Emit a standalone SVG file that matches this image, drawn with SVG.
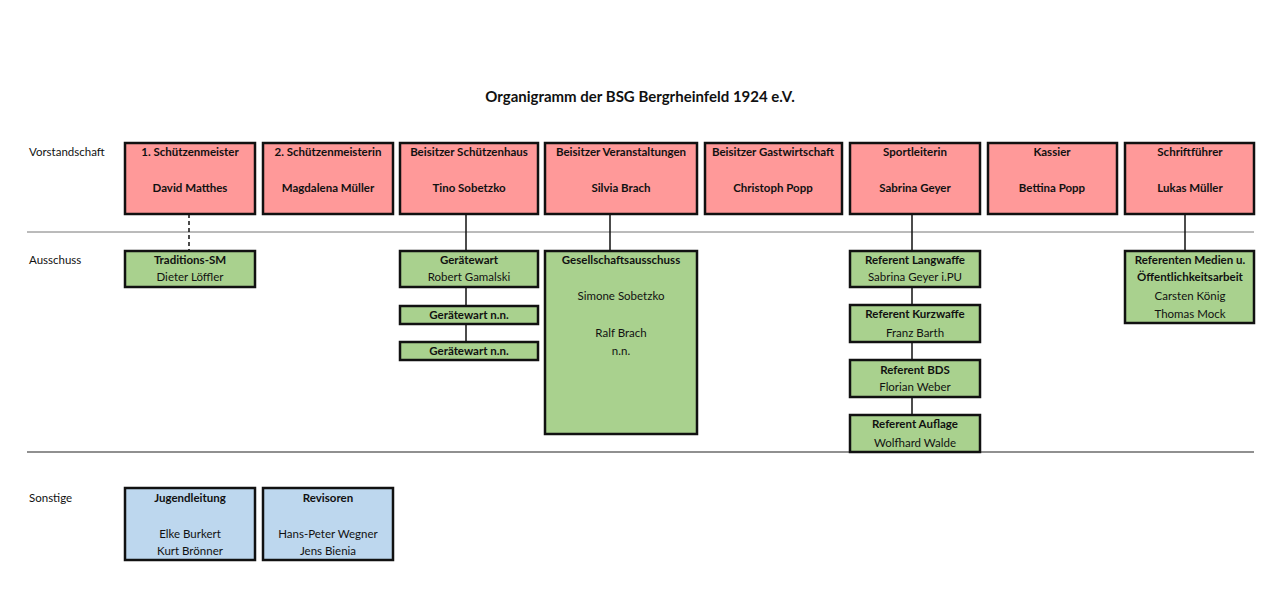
<svg xmlns="http://www.w3.org/2000/svg" width="1281" height="615" viewBox="0 0 1281 615">
<style>
text{font-family:Lato,"Open Sans","Liberation Sans",sans-serif;font-size:11.5px;fill:#111;text-anchor:middle}
.b{font-weight:bold}
.lab{text-anchor:start}
.r{fill:#FF9999;stroke:#111;stroke-width:2.5}
.g{fill:#A9D18E;stroke:#111;stroke-width:2.5}
.u{fill:#BDD7EE;stroke:#111;stroke-width:2.5}
.c{stroke:#111;stroke-width:1.5;fill:none}
</style>
<rect width="1281" height="615" fill="#fff"/>
<text x="640" y="102" class="b" style="font-size:15px">Organigramm der BSG Bergrheinfeld 1924 e.V.</text>
<text x="29" y="156" class="lab">Vorstandschaft</text>
<text x="29" y="264" class="lab">Ausschuss</text>
<text x="29" y="502" class="lab">Sonstige</text>
<line x1="27" y1="232" x2="1254" y2="232" stroke="#777" stroke-width="1"/>
<line x1="27" y1="452" x2="1254" y2="452" stroke="#222" stroke-width="1.2"/>
<g id="connectors">
<line class="c" x1="189" y1="214" x2="189" y2="251" stroke-dasharray="4,3"/>
<line class="c" x1="466" y1="214" x2="466" y2="251"/>
<line class="c" x1="466" y1="287" x2="466" y2="306"/>
<line class="c" x1="466" y1="324" x2="466" y2="342"/>
<line class="c" x1="610" y1="214" x2="610" y2="251"/>
<line class="c" x1="912" y1="214" x2="912" y2="251"/>
<line class="c" x1="912" y1="287" x2="912" y2="305"/>
<line class="c" x1="912" y1="342" x2="912" y2="360"/>
<line class="c" x1="912" y1="397" x2="912" y2="415"/>
<line class="c" x1="1185" y1="214" x2="1185" y2="251"/>
</g>
<g id="n1"><rect class="r" x="125" y="143" width="130" height="71"/><text x="190" y="156" class="b">1. Schützenmeister</text><text x="190" y="192" class="b">David Matthes</text></g>
<g id="n2"><rect class="r" x="263" y="143" width="130" height="71"/><text x="328" y="156" class="b">2. Schützenmeisterin</text><text x="328" y="192" class="b">Magdalena Müller</text></g>
<g id="n3"><rect class="r" x="400" y="143" width="138" height="71"/><text x="469" y="156" class="b">Beisitzer Schützenhaus</text><text x="469" y="192" class="b">Tino Sobetzko</text></g>
<g id="n4"><rect class="r" x="545" y="143" width="152" height="71"/><text x="621" y="156" class="b">Beisitzer Veranstaltungen</text><text x="621" y="192" class="b">Silvia Brach</text></g>
<g id="n5"><rect class="r" x="705" y="143" width="137" height="71"/><text x="773" y="156" class="b">Beisitzer Gastwirtschaft</text><text x="773" y="192" class="b">Christoph Popp</text></g>
<g id="n6"><rect class="r" x="850" y="143" width="130" height="71"/><text x="915" y="156" class="b">Sportleiterin</text><text x="915" y="192" class="b">Sabrina Geyer</text></g>
<g id="n7"><rect class="r" x="988" y="143" width="129" height="71"/><text x="1052" y="156" class="b">Kassier</text><text x="1052" y="192" class="b">Bettina Popp</text></g>
<g id="n8"><rect class="r" x="1125" y="143" width="129" height="71"/><text x="1190" y="156" class="b">Schriftführer</text><text x="1190" y="192" class="b">Lukas Müller</text></g>
<g id="a1"><rect class="g" x="125" y="251" width="130" height="36"/><text x="190" y="264" class="b">Traditions-SM</text><text x="190" y="281">Dieter Löffler</text></g>
<g id="a2"><rect class="g" x="400" y="251" width="138" height="36"/><text x="469" y="264" class="b">Gerätewart</text><text x="469" y="281">Robert Gamalski</text></g>
<g id="a3"><rect class="g" x="400" y="306" width="138" height="18"/><text x="469" y="319" class="b">Gerätewart n.n.</text></g>
<g id="a4"><rect class="g" x="400" y="342" width="138" height="18"/><text x="469" y="355" class="b">Gerätewart n.n.</text></g>
<g id="a5"><rect class="g" x="545" y="251" width="152" height="183"/><text x="621" y="264" class="b">Gesellschaftsausschuss</text><text x="621" y="300">Simone Sobetzko</text><text x="621" y="337">Ralf Brach</text><text x="621" y="355">n.n.</text></g>
<g id="a6"><rect class="g" x="850" y="251" width="130" height="36"/><text x="915" y="264" class="b">Referent Langwaffe</text><text x="915" y="281">Sabrina Geyer i.PU</text></g>
<g id="a7"><rect class="g" x="850" y="305" width="130" height="37"/><text x="915" y="318" class="b">Referent Kurzwaffe</text><text x="915" y="337">Franz Barth</text></g>
<g id="a8"><rect class="g" x="850" y="360" width="130" height="37"/><text x="915" y="374" class="b">Referent BDS</text><text x="915" y="391">Florian Weber</text></g>
<g id="a9"><rect class="g" x="850" y="415" width="130" height="37"/><text x="915" y="428" class="b">Referent Auflage</text><text x="915" y="447">Wolfhard Walde</text></g>
<g id="a10"><rect class="g" x="1125" y="251" width="129" height="72"/><text x="1190" y="264" class="b">Referenten Medien u.</text><text x="1190" y="281" class="b">Öffentlichkeitsarbeit</text><text x="1190" y="300">Carsten König</text><text x="1190" y="318">Thomas Mock</text></g>
<g id="s1"><rect class="u" x="125" y="488" width="130" height="72"/><text x="190" y="502" class="b">Jugendleitung</text><text x="190" y="538">Elke Burkert</text><text x="190" y="555">Kurt Brönner</text></g>
<g id="s2"><rect class="u" x="263" y="488" width="130" height="72"/><text x="328" y="502" class="b">Revisoren</text><text x="328" y="538">Hans-Peter Wegner</text><text x="328" y="555">Jens Bienia</text></g>
</svg>
